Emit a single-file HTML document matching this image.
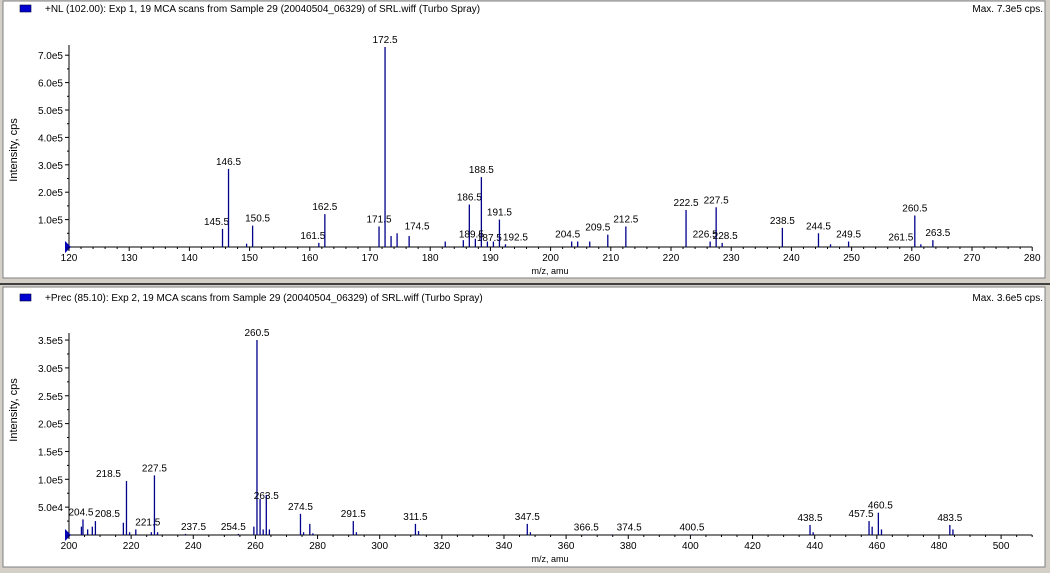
<!DOCTYPE html>
<html><head><meta charset="utf-8"><style>
html,body{margin:0;padding:0;background:#d4d0c8;}
svg{display:block;font-family:"Liberation Sans",Arial,sans-serif;}
</style></head><body>
<svg id="s" width="1050" height="573" xmlns="http://www.w3.org/2000/svg"></svg>
<script>
var s=document.getElementById('s'),h='';
h+='<rect x="0" y="0" width="1050" height="573" fill="#d4d0c8"/>';
h+='<rect x="3" y="1" width="1042" height="277" fill="#fff" stroke="#808080"/>';
h+='<line x1="0" y1="284" x2="1050" y2="284" stroke="#404040" stroke-width="2"/>';
h+='<rect x="3" y="287" width="1042" height="280" fill="#fff" stroke="#808080"/>';
function panel(o){
 var X=function(m){return o.x0+(m-o.m0)*o.sx;}, Y=function(v){return o.base-v*o.sy;};
 h+='<rect x="20" y="'+(o.hy-7)+'" width="11" height="7" fill="#0000d0" stroke="#000040" stroke-width="0.6"/>';
 h+='<text x="45" y="'+o.hy+'" font-size="10">'+o.title+'</text>';
 h+='<text x="1043" y="'+o.hy+'" font-size="10" text-anchor="end">'+o.max+'</text>';
 h+='<line x1="'+o.x0+'" y1="'+o.base+'" x2="'+X(o.m1)+'" y2="'+o.base+'" stroke="#000"/>';
 h+='<line x1="'+o.x0+'" y1="'+o.base+'" x2="'+o.x0+'" y2="'+(o.top)+'" stroke="#000"/>';
 h+='<polygon points="'+(o.x0-4)+','+(o.base-6)+' '+(o.x0+2)+','+o.base+' '+(o.x0-4)+','+(o.base+6)+'" fill="#0000b0"/>';
 for(var m=o.m0;m<=o.m1+0.001;m+=o.minor){var big=Math.abs(m/o.major-Math.round(m/o.major))<1e-6;
  h+='<line x1="'+X(m)+'" y1="'+o.base+'" x2="'+X(m)+'" y2="'+(o.base+(big?4:2))+'" stroke="#000"/>';
  if(big)h+='<text x="'+X(m)+'" y="'+(o.base+14)+'" font-size="10" text-anchor="middle">'+m+'</text>';}
 o.yt.forEach(function(t){var y=Y(t[0]);h+='<line x1="'+(o.x0-4)+'" y1="'+y+'" x2="'+o.x0+'" y2="'+y+'" stroke="#000"/>';
  h+='<text x="'+(o.x0-6)+'" y="'+(y+4)+'" font-size="10" text-anchor="end">'+t[1]+'</text>';
  var y2=Y(t[0]-o.yt[0][0]/2);h+='<line x1="'+(o.x0-2)+'" y1="'+y2+'" x2="'+o.x0+'" y2="'+y2+'" stroke="#000"/>';});
 h+='<text transform="translate(17,'+o.ylab+') rotate(-90)" font-size="11" text-anchor="middle">Intensity, cps</text>';
 h+='<text x="550" y="'+(o.base+27)+'" font-size="9" text-anchor="middle">m/z, amu</text>';
 o.pk.forEach(function(p){var x=X(p[0]),y=Y(p[1]);
  h+='<line x1="'+x+'" y1="'+o.base+'" x2="'+x+'" y2="'+y+'" stroke="#00008b" stroke-width="1.3"/>';
  if(p[2])h+='<text x="'+(x+(p[3]||0))+'" y="'+(y-4-(p[4]||0))+'" font-size="10" text-anchor="middle">'+p[0]+'</text>';});
}
panel({title:'+NL (102.00): Exp 1, 19 MCA scans from Sample 29 (20040504_06329) of SRL.wiff (Turbo Spray)',max:'Max. 7.3e5 cps.',hy:12,
 x0:69,m0:120,m1:280,sx:6.02,major:10,minor:2,base:247,sy:27.4,top:45,ylab:150,
 yt:[[1,'1.0e5'],[2,'2.0e5'],[3,'3.0e5'],[4,'4.0e5'],[5,'5.0e5'],[6,'6.0e5'],[7,'7.0e5']],
 pk:[[145.5,.66,1,-6],[146.5,2.85,1],[149.5,.12],[150.5,.78,1,5],[161.5,.15,1,-6],[162.5,1.2,1],[171.5,.75,1],[172.5,7.3,1],[173.5,.4],[174.5,.5,1,20],[176.5,.4],
 [182.5,.2],[185.5,.25],[186.5,1.55,1],[187.5,.3,1,14,-6],[188.5,2.55,1],[189.5,.2,1,-16],[190.5,.2],[191.5,1.0,1],[192.5,.1,1,10],
 [203.5,.2],[204.5,.2,1,-10],[206.5,.2],[209.5,.45,1,-10],[212.5,.75,1],[222.5,1.35,1],[226.5,.2,1,-5],[227.5,1.45,1],[228.5,.15,1,3],
 [238.5,.7,1],[244.5,.5,1],[246.5,.1],[249.5,.2,1],[260.5,1.15,1],[261.5,.1,1,-20],[263.5,.25,1,5]]});
panel({title:'+Prec (85.10): Exp 2, 19 MCA scans from Sample 29 (20040504_06329) of SRL.wiff (Turbo Spray)',max:'Max. 3.6e5 cps.',hy:301,
 x0:69,m0:200,m1:510,sx:3.107,major:20,minor:5,base:535,sy:55.7,top:333,ylab:410,
 yt:[[.5,'5.0e4'],[1,'1.0e5'],[1.5,'1.5e5'],[2,'2.0e5'],[2.5,'2.5e5'],[3,'3.0e5'],[3.5,'3.5e5']],
 pk:[[204,.15],[204.5,.28,1,-2],[206,.1],[207.5,.15],[208.5,.25,1,12],[217.5,.22],[218.5,.97,1,-18],[219.5,.05],[221.5,.1,1,12],[226.5,.05],[227.5,1.07,1],[228.5,.05],
 [237.5,.02,1,8],[254.5,.02,1,-5],[259.5,.15],[260.5,3.5,1],[261.5,.65],[262.5,.1],[263.5,.72,1,0,-8],[264.5,.1],[274.5,.38,1],[275.5,.05],[277.5,.2],[278.5,.03],
 [291.5,.25,1],[292.5,.05],[311.5,.2,1],[312.5,.07],[347.5,.2,1],[348.5,.05],[366.5,.01,1],[374.5,.01,1,18],[400.5,.01,1],[438.5,.18,1],[439.5,.05],
 [457.5,.25,1,-8],[458.5,.15],[460.5,.4,1,2],[461.5,.1],[483.5,.18,1],[484.5,.1]]});
s.innerHTML=h;
</script>
</body></html>
